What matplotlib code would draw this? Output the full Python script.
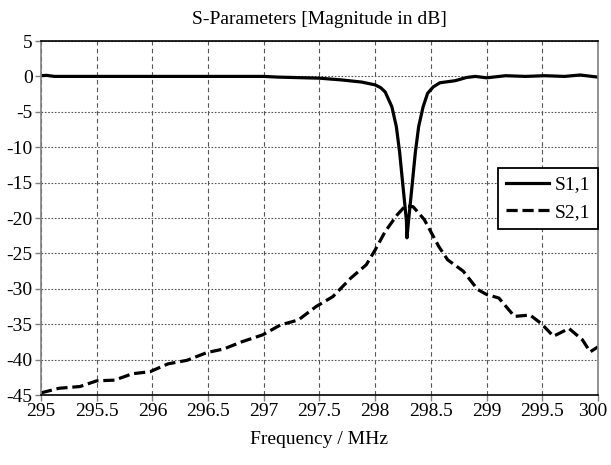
import numpy as np
import matplotlib
matplotlib.use("Agg")
import matplotlib.pyplot as plt
import matplotlib.transforms as mtransforms

plt.rcParams['font.family'] = ['Liberation Serif', 'DejaVu Serif']

# S1,1 (reflection)
s11_f = [295.0, 295.05, 295.12, 295.5, 296.0, 296.5, 297.0, 297.13, 297.5, 297.7,
         297.88, 298.0, 298.05, 298.09, 298.15, 298.19, 298.22, 298.25, 298.28,
         298.285, 298.30, 298.33, 298.36, 298.39, 298.43, 298.47, 298.52, 298.58,
         298.72, 298.82, 298.9, 299.0, 299.17, 299.35, 299.52, 299.7, 299.84, 300.0]
s11_db = [0.1, 0.15, 0.0, 0.0, 0.0, 0.0, 0.0, -0.1, -0.25, -0.5,
          -0.8, -1.2, -1.6, -2.2, -4.3, -7.1, -10.8, -15.6, -20.3,
          -22.8, -20.3, -15.6, -10.8, -7.1, -4.3, -2.4, -1.5, -0.9,
          -0.6, -0.15, 0.0, -0.2, 0.1, 0.0, 0.1, 0.0, 0.2, -0.1]

# S2,1 (transmission)
s21_f = [295.0, 295.16, 295.35, 295.5, 295.66, 295.82, 295.98, 296.14, 296.31,
         296.49, 296.64, 296.8, 296.99, 297.15, 297.31, 297.47, 297.62, 297.78,
         297.92, 298.0, 298.09, 298.2, 298.27, 298.34, 298.44, 298.57, 298.65,
         298.79, 298.92, 299.0, 299.11, 299.25, 299.39, 299.49, 299.6, 299.74,
         299.86, 299.93, 300.0]
s21_db = [-44.7, -44.05, -43.8, -43.0, -42.9, -42.0, -41.7, -40.6, -40.1,
          -39.0, -38.5, -37.5, -36.5, -35.1, -34.4, -32.5, -31.1, -28.5,
          -26.6, -24.5, -21.9, -19.5, -18.3, -18.4, -20.2, -24.0, -25.9,
          -27.5, -30.1, -30.8, -31.3, -33.9, -33.7, -34.9, -36.7, -35.6,
          -37.2, -38.9, -38.2]

x_ticks = np.arange(295, 300.01, 0.5)
y_ticks = np.arange(-45, 5.01, 5)

fig = plt.figure(figsize=(6.11, 4.65), dpi=100)
ax = fig.add_axes([0.0671, 0.1505, 0.9116, 0.7613])

ax.plot(s11_f, s11_db, color='black', lw=2.3, label='S1,1', solid_joinstyle='round')
ax.plot(s21_f, s21_db, color='black', lw=2.3, ls=(0, (3.5, 1.5)), label='S2,1')

ax.set_xlim(295, 300)
ax.set_ylim(-45, 5)
ax.set_xticks(x_ticks)
ax.set_xticklabels(['%g' % v for v in x_ticks])
ax.set_yticks(y_ticks)
ax.set_yticklabels(['%g' % v for v in y_ticks])
ax.tick_params(direction='out', length=4, width=1, color='gray', labelsize=14, pad=2)

# last x label sits at the figure edge: nudge it left a little
last = ax.get_xticklabels()[-1]
last.set_transform(last.get_transform() +
                   mtransforms.ScaledTranslation(-5 / 100, 0, fig.dpi_scale_trans))

ax.xaxis.grid(True, color='#555555', ls=(0, (4, 3)), lw=0.8)
ax.yaxis.grid(True, color='#555555', ls=(0, (1.5, 1.5)), lw=0.8)
ax.set_axisbelow(True)

for side in ['top', 'bottom']:
    ax.spines[side].set_color('black')
    ax.spines[side].set_linewidth(1.2)
for side in ['left', 'right']:
    ax.spines[side].set_color('gray')
    ax.spines[side].set_linewidth(1.2)

ax.set_title('S-Parameters [Magnitude in dB]', fontsize=14, pad=12)
ax.set_xlabel('Frequency / MHz', fontsize=14, labelpad=8)

leg = ax.legend(loc='upper right', bbox_to_anchor=(1.0, 0.641), borderaxespad=0,
                fontsize=14, frameon=True, fancybox=False, handlelength=2.2,
                handletextpad=0.3, borderpad=0.4, labelspacing=0.5)
leg.get_frame().set_edgecolor('black')
leg.get_frame().set_linewidth(1.3)
leg.get_frame().set_alpha(1)

fig.savefig('out.png', dpi=100)
